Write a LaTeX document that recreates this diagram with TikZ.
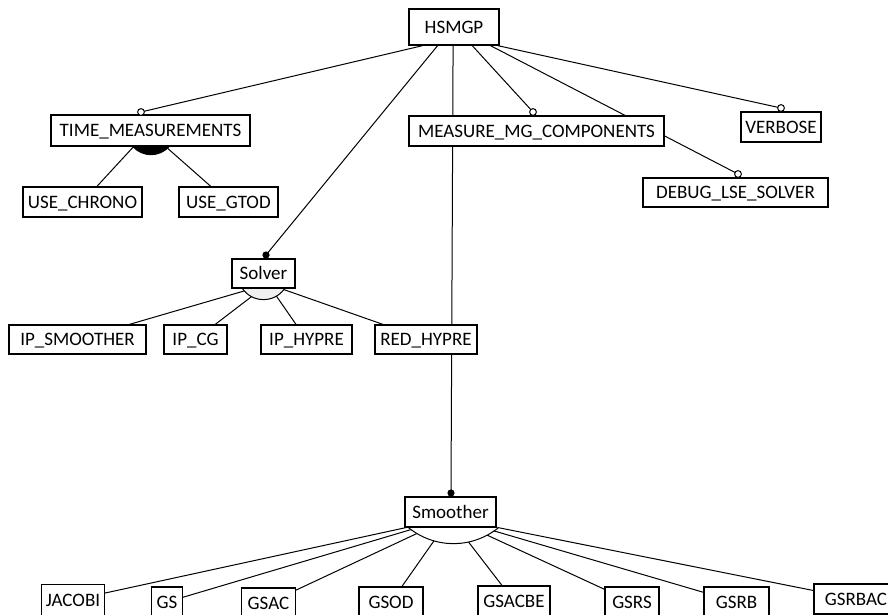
\documentclass[tikz,border=0pt]{standalone}
\usepackage{fontspec}
\setmainfont{Carlito}
\usetikzlibrary{calc}
\pgfdeclarelayer{paper}
\pgfdeclarelayer{edges}
\pgfdeclarelayer{groups}
\pgfsetlayers{paper,edges,groups,main}
\begin{document}
\begin{tikzpicture}[x=1pt,y=-1pt,
  feat/.style={draw, line width=1.3pt, fill=white, inner sep=0pt,
    text height=12.5pt, text depth=0pt, minimum height=30pt,
    font=\fontsize{19}{22}\selectfont},
  link/.style={line width=1pt},
  optional/.style={draw, line width=1pt, fill=white},
  mandatory/.style={fill=black},
]
\useasboundingbox (0,0) rectangle (888,614);
\begin{pgfonlayer}{paper}
\fill[white] (0,0) rectangle (888,614);
\end{pgfonlayer}
\clip (0,0) rectangle (888,614);

% ---- features ----
\node[feat, minimum width=90pt, minimum height=36pt] (hsmgp) at (454,27) {HSMGP};
\node[feat, minimum width=199pt, minimum height=31pt] (time) at (150.5,130.5) {TIME\_MEASUREMENTS};
\node[feat, minimum width=255pt] (measure) at (536.5,131) {MEASURE\_MG\_COMPONENTS};
\node[feat, minimum width=80pt] (verbose) at (781,127) {VERBOSE};
\node[feat, minimum width=185pt, minimum height=29pt] (debug) at (735.5,192.5) {DEBUG\_LSE\_SOLVER};
\node[feat, minimum width=119pt] (chrono) at (82.5,202) {USE\_CHRONO};
\node[feat, minimum width=99pt] (gtod) at (228.5,202) {USE\_GTOD};
\node[feat, minimum width=63pt, minimum height=29pt] (solver) at (263.5,273.5) {Solver};
\node[feat, minimum width=137pt, minimum height=29pt] (ipsmoother) at (77.5,339.5) {IP\_SMOOTHER};
\node[feat, minimum width=63pt, minimum height=29pt] (ipcg) at (195.5,339.5) {IP\_CG};
\node[feat, minimum width=91pt, minimum height=29pt] (iphypre) at (306.5,339.5) {IP\_HYPRE};
\node[feat, minimum width=102pt, minimum height=29pt] (redhypre) at (426,339.5) {RED\_HYPRE};
\node[feat, minimum width=91pt] (smoother) at (450.5,512) {Smoother};
\node[feat, minimum width=63pt, minimum height=31pt] (jacobi) at (73,600) {JACOBI};
\node[feat, minimum width=31pt] (gs) at (167,602) {GS};
\node[feat, minimum width=54pt] (gsac) at (268.5,603) {GSAC};
\node[feat, minimum width=64pt] (gsod) at (391,602) {GSOD};
\node[feat, minimum width=72pt] (gsacbe) at (514,601) {GSACBE};
\node[feat, minimum width=54pt] (gsrs) at (632,602) {GSRS};
\node[feat, minimum width=65pt] (gsrb) at (736.5,602) {GSRB};
\node[feat, minimum width=84pt] (gsrbac) at (856,599) {GSRBAC};

% ---- connector end points ----
\coordinate (o-time) at (141,112);
\coordinate (o-meas) at (533,112);
\coordinate (o-verb) at (781,108);
\coordinate (o-dbg) at (738,174);
\coordinate (m-solver) at (266,255);
\coordinate (m-smooth) at (451,493);
\coordinate (h-time) at (148,131);
\coordinate (h-solver) at (268,284);
\coordinate (h-smooth) at (450,518);

% ---- connectors (behind the boxes) ----
\begin{pgfonlayer}{edges}
\draw[link] ($(hsmgp.south west)!0.156!(hsmgp.south east)$) -- (o-time);
\draw[link] ($(hsmgp.south west)!0.32!(hsmgp.south east)$) -- (m-solver);
\draw[link] ($(hsmgp.south west)!0.49!(hsmgp.south east)$) -- (m-smooth);
\draw[link] ($(hsmgp.south west)!0.70!(hsmgp.south east)$) -- (o-meas);
\draw[link] ($(hsmgp.south west)!0.90!(hsmgp.south east)$) -- (o-dbg);
\draw[link] ($(hsmgp.south west)!0.98!(hsmgp.south east)$) -- (o-verb);
\foreach \c in {chrono,gtod} \draw[link] (h-time) -- (\c.center);
\foreach \c in {ipsmoother,ipcg,iphypre,redhypre} \draw[link] (h-solver) -- (\c.center);
\foreach \c in {jacobi,gs,gsac,gsod,gsacbe,gsrs,gsrb,gsrbac} \draw[link] (h-smooth) -- (\c.center);
\end{pgfonlayer}

% ---- group arcs under the parents ----
\begin{pgfonlayer}{groups}
\filldraw[link, fill=black]
  ($(time.south)+(-17.5,0)$) .. controls +(9.6,10.7) and +(-9.6,10.7) .. ($(time.south)+(18.5,0)$);
\filldraw[link, fill=gray!12]
  ($(solver.south)+(-21,0)$) .. controls +(10,14.6) and +(-10,14.6) .. ($(solver.south)+(21,0)$);
\filldraw[link, fill=white]
  ($(smoother.south)+(-42,0)$) .. controls +(26.5,21.3) and +(-26.5,21.3) .. ($(smoother.south)+(48,0)$);
\end{pgfonlayer}

% ---- optional / mandatory markers ----
\foreach \m in {o-time,o-meas,o-verb,o-dbg} \filldraw[optional] (\m) circle[radius=3.4pt];
\foreach \m in {m-solver,m-smooth} \fill[mandatory] (\m) circle[radius=3.6pt];
\end{tikzpicture}
\end{document}
